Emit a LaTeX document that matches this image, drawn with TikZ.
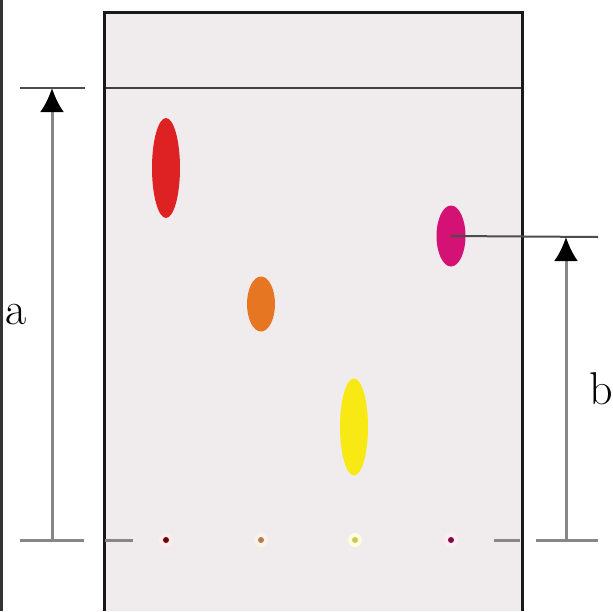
\documentclass[tikz,border=0pt]{standalone}
\usepackage{tikz}
\usepackage{xcolor}
\usetikzlibrary{arrows.meta, shapes.geometric}

\definecolor{plate}{RGB}{240,236,238}
\definecolor{spotred}{RGB}{222,34,36}
\definecolor{spotorange}{RGB}{230,118,34}
\definecolor{spotyellow}{RGB}{248,232,20}
\definecolor{spotmagenta}{RGB}{212,18,118}
\definecolor{guide}{RGB}{135,135,135}

\begin{document}
\begin{tikzpicture}[x=1pt, y=-1pt,
  >={Latex[black, length=24pt, width=24pt]},
  every node/.style={font=\fontsize{46}{50}\selectfont},
  spot/.style={ellipse, inner sep=0pt, minimum width=28pt},
  dot/.style={circle, inner sep=0pt, minimum size=14pt,
    path picture={\fill[#1] (path picture bounding box.center) circle (3pt);}},
  guideline/.style={guide, line width=3pt}]
  \useasboundingbox (0,0) rectangle (613,611);
  % scan edge
  \fill[black!80] (0,0) rectangle (3,611);
  % Plade
  \fill[plate] (104,12) rectangle (522,611);
  \draw[line width=2pt, black!75] (104,88) -- (522,88);
  \draw[line width=3pt, black!90] (104,611) -- (104,12) -- (522,12) -- (522,611);
  % Pletter
  \node[spot, fill=spotred, minimum height=100pt] (red) at (166,168) {};
  \node[spot, fill=spotorange, minimum height=55pt] (orange) at (261,304) {};
  \node[spot, fill=spotyellow, minimum height=97pt] (yellow) at (354,427) {};
  \node[spot, fill=spotmagenta, minimum width=29pt, minimum height=61pt] (magenta) at (451,236) {};
  % Startpunkter
  \node[dot=red!45!black, fill=spotred!8] (d1) at (166,540) {};
  \node[dot=brown!70!gray, fill=spotorange!10] (d2) at (261,540) {};
  \node[dot=yellow!55!gray, fill=spotyellow!15] (d3) at (355,540) {};
  \node[dot=spotmagenta!60!black, fill=spotmagenta!8] (d4) at (451,540) {};
  % Startlinje
  \draw[guideline] (20,540) -- (84,540);
  \draw[guideline] (105,540) -- (133,540);
  \draw[guideline] (494,540) -- (520,540);
  \draw[guideline] (536,540) -- (598,540);
  % Afstand a
  \draw[line width=2pt, black!70] (20,88) -- (85,88);
  \coordinate (aBot) at (52,540);
  \coordinate (aTop) at (52,88);
  \draw[guideline, ->] (aBot) -- (aTop);
  \node (la) at (16,315) {a};
  % Afstand b
  \coordinate (bTop) at (566,237);
  \coordinate (bEnd) at (598,237);
  \coordinate (bBot) at (566,540);
  \draw[line width=2pt, black!70] (magenta.center) -- (bEnd);
  \draw[guideline, ->] (bBot) -- (bTop);
  \node (lb) at (601,389) {b};
\end{tikzpicture}
\end{document}
